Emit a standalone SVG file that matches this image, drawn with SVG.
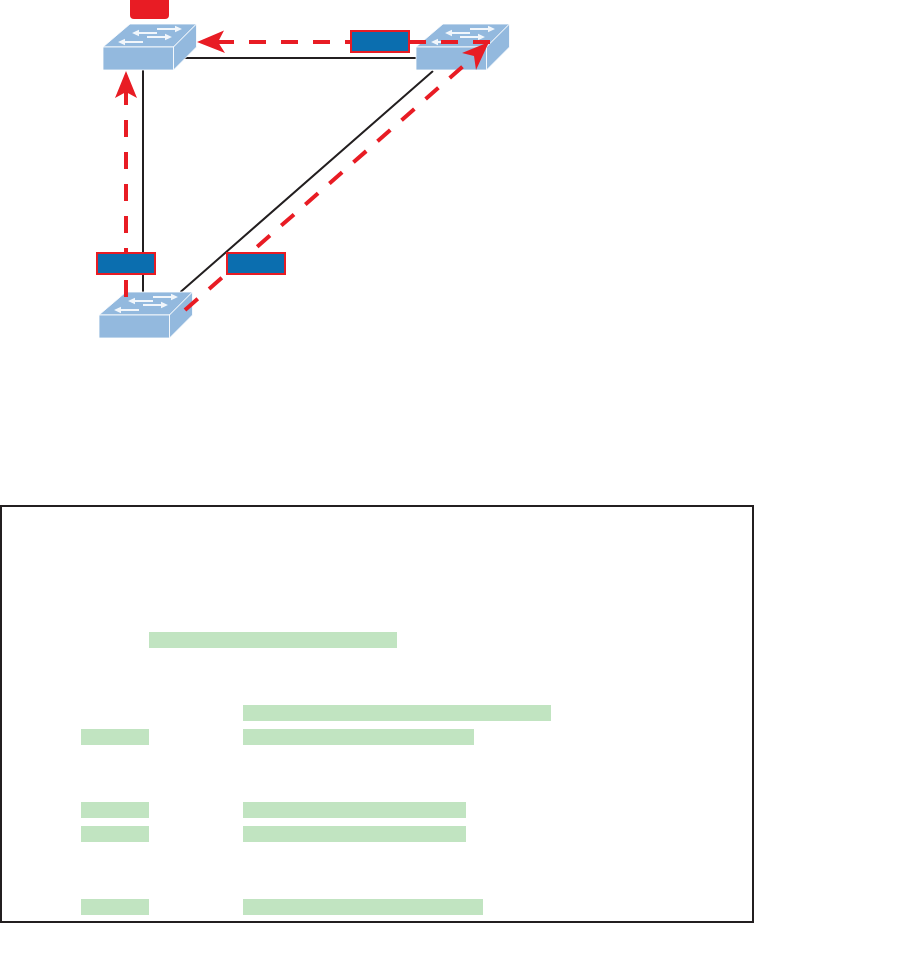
<svg xmlns="http://www.w3.org/2000/svg" width="918" height="979" viewBox="0 0 918 979">
<style>
.link{stroke:#231f20;stroke-width:2;fill:none}
.path{stroke:#e81c24;stroke-width:4;fill:none;stroke-dasharray:17 15}
.box{fill:#0b6eaf;stroke:#e81c24;stroke-width:2}
.hl{fill:#c1e4c1}
.head{fill:#e81c24}
.front{fill:#93b9de;stroke:#fff;stroke-width:.8}
.arr{stroke:#f1f6fb;stroke-width:1.8;fill:none}
.tip{fill:#f1f6fb}
</style>
<defs>
<g id="sw">
<path class="front" d="M0 23L27 0H93.500L70.500 23Z"/>
<path class="front" d="M70.500 23L93.500 0V23L70.500 46Z"/>
<rect class="front" x="0" y="23" width="70.500" height="23"/>
<path class="arr" d="M54 5H74M35 9H54M44 13H64M21 18H40"/>
<path class="tip" d="M79 5L72 1.800V8.200ZM29 9L36 5.800V12.200ZM69 13L62 9.800V16.200ZM15 18L22 14.800V21.200Z"/>
</g>
</defs>
<rect width="918" height="979" fill="#fff"/>
<g id="connectors">
<path class="link" d="M174 58H416M143 70V292M180.500 292L433 71"/>
</g>
<g id="node-top-left"><use href="#sw" x="103" y="24"/><rect x="130" y="-4" width="39" height="23" rx="4" fill="#e81c24"/></g>
<g id="node-top-right"><use href="#sw" x="416" y="24"/></g>
<g id="node-bottom-left"><use href="#sw" x="99" y="292"/></g>
<g id="paths">
<path class="path" d="M490 42H217"/>
<path class="head" d="M197 42L224 30.500L218 42L225 53Z"/>
<path class="path" d="M126 297V90"/>
<path class="head" d="M126 71L137 98L126 92L115 98Z"/>
<path class="path" d="M185 310L473 57.500"/>
<path class="head" d="M489 42L476 70L474 56L462 53Z"/>
</g>
<g id="box-1"><rect class="box" x="351" y="31" width="58" height="21"/></g>
<g id="box-2"><rect class="box" x="97" y="253" width="58" height="21"/></g>
<g id="box-3"><rect class="box" x="227" y="253" width="58" height="21"/></g>
<g id="panel">
<rect x="1" y="506" width="752" height="416" fill="none" stroke="#231f20" stroke-width="2"/>
<rect class="hl" x="149" y="632" width="248" height="16"/>
<rect class="hl" x="243" y="705" width="308" height="16"/>
<rect class="hl" x="81" y="729" width="68" height="16"/>
<rect class="hl" x="243" y="729" width="231" height="16"/>
<rect class="hl" x="81" y="802" width="68" height="16"/>
<rect class="hl" x="243" y="802" width="223" height="16"/>
<rect class="hl" x="81" y="826" width="68" height="16"/>
<rect class="hl" x="243" y="826" width="223" height="16"/>
<rect class="hl" x="81" y="899" width="68" height="16"/>
<rect class="hl" x="243" y="899" width="240" height="16"/>
</g>
</svg>
